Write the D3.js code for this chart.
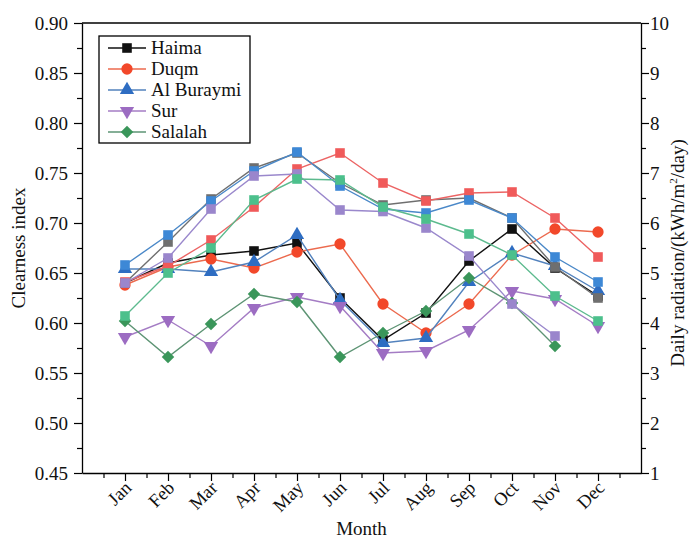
<!DOCTYPE html>
<html>
<head>
<meta charset="utf-8">
<script src="https://cdn.jsdelivr.net/npm/d3@7"></script>
<style>
  html, body { margin: 0; padding: 0; background: #fff; }
  svg { display: block; }
  svg text { font-family: "Liberation Serif", "Times New Roman", serif; fill: #111; }
</style>
</head>
<body>
<svg id="chart" width="692" height="540"></svg>
<script>
// Month labels
const months = ["Jan","Feb","Mar","Apr","May","Jun","Jul","Aug","Sep","Oct","Nov","Dec"];

// Monthly clearness index per site
const haimaCI   = [0.640,0.660,0.668,0.672,0.680,0.625,0.583,0.610,0.662,0.694,0.655,0.627];
const duqmCI    = [0.638,0.656,0.664,0.655,0.671,0.679,0.619,0.590,0.619,0.668,0.694,0.691];
const buraymiCI = [0.654,0.654,0.651,0.661,0.688,0.623,0.580,0.585,0.641,0.670,0.657,0.632];
const surCI     = [0.586,0.603,0.577,0.615,0.626,0.617,0.570,0.572,0.593,0.632,0.624,0.597];
const salalahCI = [0.602,0.566,0.599,0.629,0.621,0.566,0.590,0.612,0.645,0.620,0.577,null];

// Monthly daily radiation per site (kWh/m²/day)
const haimaRad   = [4.80,5.62,6.48,7.10,7.40,6.80,6.36,6.46,6.50,6.10,5.12,4.50];
const duqmRad    = [4.82,5.14,5.66,6.32,7.08,7.40,6.80,6.44,6.60,6.62,6.10,5.32];
const buraymiRad = [5.16,5.76,6.44,7.04,7.42,6.74,6.28,6.20,6.46,6.10,5.32,4.82];
const surRad     = [4.80,5.30,6.28,6.94,6.98,6.26,6.23,5.90,5.34,4.38,3.74,null];
const salalahRad = [4.14,5.00,5.50,6.46,6.88,6.86,6.32,6.08,5.78,5.36,4.54,4.04];

// Axis tick values
const ciTicks  = [0.45,0.50,0.55,0.60,0.65,0.70,0.75,0.80,0.85,0.90];
const radTicks = [1,2,3,4,5,6,7,8,9,10];

const sites = [
  {name:"Haima",      shape:"square",   ci:haimaCI,   rad:haimaRad,
   ciLine:"#111111", ciFill:"#111111", radLine:"#6f6f6f", radFill:"#6f6f6f"},
  {name:"Duqm",       shape:"circle",   ci:duqmCI,    rad:duqmRad,
   ciLine:"#ec6a4e", ciFill:"#f2482a", radLine:"#ec6464", radFill:"#f05a5a"},
  {name:"Al Buraymi", shape:"triangle", ci:buraymiCI, rad:buraymiRad,
   ciLine:"#5282bd", ciFill:"#2e6dc2", radLine:"#4a88c8", radFill:"#3d88d6"},
  {name:"Sur",        shape:"triangleDown", ci:surCI, rad:surRad,
   ciLine:"#a47cc4", ciFill:"#9c6cc2", radLine:"#9a88cc", radFill:"#9a86cc"},
  {name:"Salalah",    shape:"diamond",  ci:salalahCI, rad:salalahRad,
   ciLine:"#5d9474", ciFill:"#3a965a", radLine:"#5cba8e", radFill:"#4cc08c"}
];

const FONT = '"Liberation Serif", "Times New Roman", serif';
const svg = d3.select("#chart");
const L = 82, R = 641, T = 23, B = 473;

const x = d3.scaleLinear().domain([0, 13]).range([L, R]);
const yL = d3.scaleLinear().domain([0.45, 0.90]).range([B, T]);
const yR = d3.scaleLinear().domain([1, 10]).range([B, T]);

const symbols = {
  square: d3.symbol().type(d3.symbolSquare).size(92),
  circle: d3.symbol().type(d3.symbolCircle).size(100),
  triangle: d3.symbol().type(d3.symbolTriangle).size(88),
  triangleDown: d3.symbol().type(d3.symbolTriangle).size(88),
  diamond: d3.symbol().type(d3.symbolSquare).size(78)
};
const rot = {square:0, circle:0, triangle:0, triangleDown:180, diamond:45};

function drawMarker(g, shape, cx, cy, fill) {
  g.append("path")
    .attr("d", symbols[shape]())
    .attr("transform", `translate(${cx},${cy}) rotate(${rot[shape]})`)
    .attr("fill", fill);
}

// frame: top line
svg.append("line").attr("x1", L).attr("x2", R).attr("y1", T).attr("y2", T)
  .attr("stroke", "#000").attr("stroke-width", 1.3);

// left axis
const leftAxis = d3.axisLeft(yL).tickValues(ciTicks).tickFormat(d3.format(".2f")).tickSize(8).tickSizeOuter(0);
const gl = svg.append("g").attr("transform", `translate(${L},0)`).call(leftAxis);
const leftMinor = d3.axisLeft(yL).tickValues(d3.range(0.475, 0.90, 0.05)).tickFormat("").tickSize(5).tickSizeOuter(0);
svg.append("g").attr("transform", `translate(${L},0)`).call(leftMinor).select(".domain").remove();

// right axis
const rightAxis = d3.axisRight(yR).tickValues(radTicks).tickFormat(d3.format("d")).tickSize(8).tickSizeOuter(0);
const gr = svg.append("g").attr("transform", `translate(${R},0)`).call(rightAxis);
const rightMinor = d3.axisRight(yR).tickValues(d3.range(1.5, 10, 1)).tickFormat("").tickSize(5).tickSizeOuter(0);
svg.append("g").attr("transform", `translate(${R},0)`).call(rightMinor).select(".domain").remove();

// bottom axis
const bottomAxis = d3.axisBottom(x).tickValues(d3.range(1, 13)).tickFormat(d => months[d - 1]).tickSize(8).tickSizeOuter(0);
const gb = svg.append("g").attr("transform", `translate(0,${B})`).call(bottomAxis);
const bottomMinor = d3.axisBottom(x).tickValues(d3.range(0.5, 13, 1)).tickFormat("").tickSize(5).tickSizeOuter(0);
svg.append("g").attr("transform", `translate(0,${B})`).call(bottomMinor).select(".domain").remove();

svg.selectAll("g").attr("font-family", FONT);
svg.selectAll(".domain").attr("stroke", "#000").attr("stroke-width", 1.3);
svg.selectAll(".tick line").attr("stroke", "#000").attr("stroke-width", 1.2);
svg.selectAll(".tick text").attr("font-size", 19).attr("fill", "#111");
gl.selectAll(".tick text").attr("x", -14);
gr.selectAll(".tick text").attr("x", 9);
gb.selectAll(".tick text")
  .attr("text-anchor", "end")
  .attr("dy", 0)
  .attr("y", 0)
  .attr("font-size", 18.5)
  .attr("transform", "translate(7,16) rotate(-45)");

// axis titles
svg.append("text").attr("transform", `translate(25,${(T + B) / 2}) rotate(-90)`)
  .attr("text-anchor", "middle").attr("font-size", 19).text("Clearness index");
svg.append("text").attr("transform", "translate(684,253) rotate(-90)")
  .attr("text-anchor", "middle").attr("font-size", 19)
  .html('Daily radiation/(kWh/m<tspan dy="-7" font-size="11">2</tspan><tspan dy="7">/day)</tspan>');
svg.append("text").attr("x", (L + R) / 2).attr("y", 535)
  .attr("text-anchor", "middle").attr("font-size", 19).text("Month");

// series
const plot = svg.append("g");
const lineCI = d3.line().defined(d => d != null).x((d, i) => x(i + 1)).y(d => yL(d));
const lineRad = d3.line().defined(d => d != null).x((d, i) => x(i + 1)).y(d => yR(d));

sites.forEach(s => {
  plot.append("path").datum(s.ci).attr("d", lineCI)
    .attr("fill", "none").attr("stroke", s.ciLine).attr("stroke-width", 1.4);
  s.ci.forEach((v, i) => { if (v != null) drawMarker(plot, s.shape, x(i + 1), yL(v), s.ciFill); });
});
sites.forEach(s => {
  plot.append("path").datum(s.rad).attr("d", lineRad)
    .attr("fill", "none").attr("stroke", s.radLine).attr("stroke-width", 1.4);
  s.rad.forEach((v, i) => { if (v != null) drawMarker(plot, "square", x(i + 1), yR(v), s.radFill); });
});

// legend
const lg = svg.append("g");
lg.append("rect").attr("x", 99).attr("y", 36).attr("width", 151).attr("height", 107)
  .attr("fill", "#fff").attr("stroke", "#000").attr("stroke-width", 1.3);
sites.forEach((s, i) => {
  const yy = 48 + i * 21;
  lg.append("line").attr("x1", 108).attr("x2", 146).attr("y1", yy).attr("y2", yy)
    .attr("stroke", s.ciLine).attr("stroke-width", 1.4);
  drawMarker(lg, s.shape, 127, yy, s.ciFill);
  lg.append("text").attr("x", 151).attr("y", yy + 6).attr("font-size", 19).text(s.name);
});
</script>
</body>
</html>
